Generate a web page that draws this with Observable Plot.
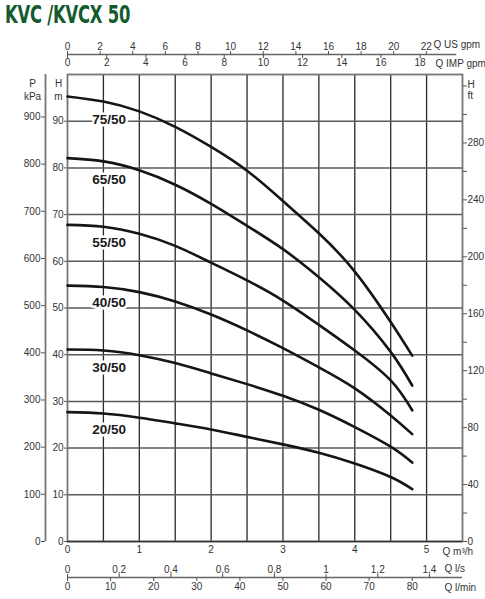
<!DOCTYPE html>
<html><head><meta charset="utf-8">
<script src="https://cdn.jsdelivr.net/npm/d3@7"></script>
<script src="https://cdn.jsdelivr.net/npm/@observablehq/plot@0.6"></script>
<style>
html,body{margin:0;padding:0;background:#fff;}
#wrap{width:485px;height:599px;position:relative;overflow:hidden;background:#fff;}
#title{position:absolute;left:5px;top:2px;font-family:"Liberation Sans Narrow","DejaVu Sans Condensed","Liberation Sans",sans-serif;font-weight:bold;font-size:24px;line-height:26px;color:#135a2c;transform:scaleX(0.76);transform-origin:0 0;white-space:nowrap;letter-spacing:-0.3px;}
#chart{position:absolute;left:0;top:30px;}
</style></head>
<body><div id="wrap"><div id="title">KVC /KVCX 50</div><div id="chart"></div></div>
<script>
// Flow rate Q (m3/h) sample points
const flow = [0, 0.5, 1, 1.5, 2, 2.5, 3, 3.5, 4, 4.5, 4.8];
const models = ["75/50", "65/50", "55/50", "40/50", "30/50", "20/50"];
// Head H (m) per model
const head75 = [95.3, 94.2, 92.1, 88.8, 84.5, 79.4, 72.9, 66.0, 57.8, 47.0, 39.8];
const head65 = [82.1, 81.4, 79.5, 76.4, 72.3, 67.6, 62.6, 56.6, 49.6, 40.6, 33.4];
const head55 = [67.8, 67.4, 65.9, 63.3, 59.7, 55.9, 51.6, 46.4, 40.9, 34.5, 28.1];
const head40 = [54.8, 54.5, 53.4, 51.4, 48.6, 45.2, 41.4, 37.3, 32.8, 27.0, 23.0];
const head30 = [41.1, 40.9, 39.9, 38.2, 36.0, 33.7, 31.2, 28.2, 24.5, 20.3, 16.9];
const head20 = [27.7, 27.4, 26.5, 25.3, 24.0, 22.4, 20.8, 19.0, 16.7, 13.8, 11.2];
const heads = [head75, head65, head55, head40, head30, head20];
// curve label positions
const labelQ = [0.58, 0.58, 0.58, 0.58, 0.58, 0.58];
const labelH = [90.3, 77.5, 63.9, 51.1, 37.2, 24.0];

// Axis ticks
const qTicks = [0, 1, 2, 3, 4, 5];
const qGrid = [0.5, 1, 1.5, 2, 2.5, 3, 3.5, 4, 4.5, 5];
const hTicks = [0, 10, 20, 30, 40, 50, 60, 70, 80, 90];
const hGrid = [10, 20, 30, 40, 50, 60, 70, 80, 90];
const kpaTicks = [0, 100, 200, 300, 400, 500, 600, 700, 800, 900];
const ftTicks = [0, 20, 40, 60, 80, 100, 120, 140, 160, 180, 200, 220, 240, 260, 280, 300, 320];
const ftLabels = [0, 40, 80, 120, 160, 200, 240, 280];
const usTicks = [0, 2, 4, 6, 8, 10, 12, 14, 16, 18, 20, 22];
const impTicks = [0, 2, 4, 6, 8, 10, 12, 14, 16, 18];
const lsTicks = [0, 0.2, 0.4, 0.6, 0.8, 1, 1.2, 1.4];
const lsLabels = ["0", "0,2", "0,4", "0,6", "0,8", "1", "1,2", "1,4"];
const lminTicks = [0, 10, 20, 30, 40, 50, 60, 70, 80];

// unit conversions
const US = 0.227125, IMP = 0.272765, LS = 3.6, LMIN = 0.06, FT = 0.3048, KPA = 9.9;

const rows = models.flatMap((m, i) => flow.map((q, j) => ({model: m, q, h: heads[i][j]})));
const labels = models.map((m, i) => ({model: m, q: labelQ[i], h: labelH[i]}));

const axisColor = "#333";
const fs = 10;
const unit = (t, anchor, dx, dy, ta = "start") =>
  Plot.text([t], {frameAnchor: anchor, dx, dy, textAnchor: ta, lineAnchor: "middle", fontSize: fs, fill: axisColor});

const chart = Plot.plot({
  width: 485,
  height: 569,
  marginLeft: 67,
  marginRight: 23,
  marginTop: 44,
  marginBottom: 58,
  x: {domain: [0, 5.5], label: null},
  y: {domain: [0, 100], label: null},
  style: {fontFamily: "'Liberation Sans', Arial, sans-serif", fontSize: "10px", background: "white", color: axisColor, overflow: "visible"},
  marks: [
    Plot.ruleX(qGrid, {stroke: "#2a2a2a", strokeWidth: 1.3}),
    Plot.ruleY(hGrid, {stroke: "#5a5a5a", strokeWidth: 1.5}),
    Plot.frame({stroke: "#777", strokeWidth: 1.8}),
    Plot.ruleY([0], {stroke: "#333", strokeWidth: 1.6}),
    // left H m axis
    Plot.axisY(hTicks, {anchor: "left", tickSize: 3, tickPadding: 1, fontSize: fs, label: null, stroke: "#555", fill: axisColor}),
    // kPa axis
    Plot.ruleX([0], {dx: -22, stroke: "#777", strokeWidth: 1.8}),
    Plot.axisY(kpaTicks.map(v => v / KPA), {anchor: "left", dx: -22, tickSize: 4, tickPadding: 1, fontSize: fs, label: null, stroke: "#555", fill: axisColor, tickFormat: d => Math.round(d * KPA)}),
    // right ft axis
    Plot.axisY(ftTicks.map(v => v * FT), {anchor: "right", tickSize: 4, tickPadding: 1, fontSize: fs, label: null, stroke: "#555", fill: axisColor,
      tickFormat: d => { const f = Math.round(d / FT); return ftLabels.includes(f) ? String(f) : ""; }}),
    // top US / IMP gpm axis
    Plot.ruleY([100], {x1: 0, x2: 5.42, dy: -20, stroke: "#666", strokeWidth: 1.3}),
    Plot.axisX(usTicks.map(v => v * US), {anchor: "top", dy: -20, tickSize: 4, tickPadding: 1, fontSize: fs, label: null, stroke: "#555", fill: axisColor, tickFormat: d => Math.round(d / US)}),
    Plot.axisX(impTicks.map(v => v * IMP), {anchor: "bottom", dy: -487, tickSize: 4, tickPadding: 0, fontSize: fs, label: null, stroke: "#555", fill: axisColor, tickFormat: d => Math.round(d / IMP)}),
    // bottom m3/h axis
    Plot.axisX(qTicks, {anchor: "bottom", tickSize: 0, tickPadding: 4, fontSize: fs, label: null, fill: axisColor}),
    // l/s & l/min axis
    Plot.ruleY([0], {x1: 0, x2: 5.5, dy: 36, stroke: "#666", strokeWidth: 1.3}),
    Plot.axisX(lsTicks.map(v => v * LS), {anchor: "top", dy: 503, tickSize: 4, tickPadding: 1, fontSize: fs, label: null, stroke: "#555", fill: axisColor,
      tickFormat: d => lsLabels[lsTicks.findIndex(v => Math.abs(v * LS - d) < 1e-6)]}),
    Plot.axisX(lminTicks.map(v => v * LMIN), {anchor: "bottom", dy: 36, tickSize: 4, tickPadding: 1, fontSize: fs, label: null, stroke: "#555", fill: axisColor, tickFormat: d => Math.round(d / LMIN)}),
    // unit labels
    unit("P", "top-left", -35, 9, "middle"),
    unit("kPa", "top-left", -35, 22, "middle"),
    unit("H", "top-left", -9, 9, "middle"),
    unit("m", "top-left", -9, 22, "middle"),
    unit("H", "top-right", 5, 10),
    unit("ft", "top-right", 5, 21),
    unit("Q US gpm", "top-right", -29, -30),
    unit("Q IMP gpm", "top-right", -27, -11),
    unit("Q m³/h", "bottom-right", -20, 10),
    unit("Q l/s", "bottom-right", -18, 27),
    unit("Q l/min", "bottom-right", -18, 46),
    // curves
    Plot.line(rows, {x: "q", y: "h", z: "model", curve: "natural", stroke: "#151515", strokeWidth: 2.6}),
    Plot.text(labels, {x: "q", y: "h", text: "model", fontSize: 13.5, fontWeight: "bold", fill: "#1a1a1a", stroke: "white", strokeWidth: 5})
  ]
});
document.getElementById("chart").appendChild(chart);
</script>
</body></html>
